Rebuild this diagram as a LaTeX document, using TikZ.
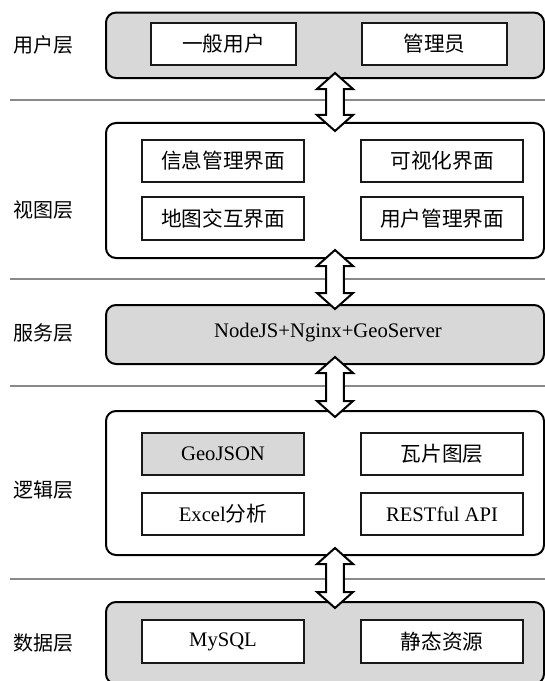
\documentclass[tikz,border=0pt]{standalone}
\usepackage{fontspec}
\setmainfont{Liberation Serif}
\newfontfamily\cjk{Noto Sans CJK SC}
\usetikzlibrary{calc}
\definecolor{boxgray}{HTML}{D8D8D8}
\definecolor{sepgray}{HTML}{8A8A8A}
\newcommand\blockarrow[2]{%
  \draw[arrowshape] (#1) -- ++(18,16) -- ++(-9.2,0) -- ($(#2)+(8.8,-16)$) -- ++(9.2,0) -- (#2)
    -- ++(-18,-16) -- ++(9.2,0) -- ($(#1)+(-8.8,16)$) -- ++(-9.2,0) -- cycle;}
\begin{document}
\begin{tikzpicture}[x=0.75pt,y=-0.75pt,
  every node/.style={font=\fontsize{15.5}{18}\selectfont, inner sep=0pt},
  bigbox/.style={draw=black, line width=1.5pt, rounded corners=7.5pt, minimum width=328.5pt},
  graybox/.style={bigbox, fill=boxgray},
  whitebox/.style={bigbox, fill=white},
  itembox/.style={draw=black!90, line width=1.2pt, fill=white, minimum height=31.9pt},
  sepline/.style={draw=sepgray, line width=0.9pt},
  layerlabel/.style={font=\fontsize{15}{18}\selectfont\cjk},
  arrowshape/.style={draw=black, line width=1.5pt, fill=white, line join=miter}
]
\useasboundingbox (0,0) rectangle (545,681);
\fill[white] (0,0) rectangle (545,681);

% separators
\draw[sepline] (10,100) -- (545,100);
\draw[sepline] (10,279) -- (545,279);
\draw[sepline] (10,386) -- (545,386);
\draw[sepline] (10,579) -- (545,579);

% layer boxes
\node[graybox, minimum height=49.1pt] (b1) at (325,45.3) {};
\node[whitebox, minimum height=101.25pt] (b2) at (325,190.5) {};
\node[graybox, minimum height=44.25pt] (b3) at (325,334.5) {};
\node[whitebox, minimum height=108pt] (b4) at (325,483) {};
\node[graybox, minimum height=61.5pt] (b5) at (325,643) {};

% layer labels
\node[layerlabel] (l1) at (43,45) {用户层};
\node[layerlabel] (l2) at (43,210) {视图层};
\node[layerlabel] (l3) at (43,333) {服务层};
\node[layerlabel] (l4) at (43,490) {逻辑层};
\node[layerlabel] (l5) at (43,643) {数据层};

% user layer
\node[itembox, minimum width=108.75pt] (u1) at (223.5,44) {\cjk 一般用户};
\node[itembox, minimum width=108.75pt] (u2) at (434.5,44) {\cjk 管理员};

% view layer
\node[itembox, minimum width=121.5pt] (v1) at (223,161) {\cjk 信息管理界面};
\node[itembox, minimum width=121.5pt] (v2) at (442,161) {\cjk 可视化界面};
\node[itembox, minimum width=121.5pt] (v3) at (223,218.5) {\cjk 地图交互界面};
\node[itembox, minimum width=121.5pt] (v4) at (442,218.5) {\cjk 用户管理界面};

% service layer
\node (s1) at (328,333) {NodeJS+Nginx+GeoServer};

% logic layer
\node[itembox, fill=boxgray, minimum width=121.5pt] (g1) at (223,454) {GeoJSON};
\node[itembox, minimum width=121.5pt] (g2) at (442,454) {\cjk 瓦片图层};
\node[itembox, minimum width=121.5pt] (g3) at (223,514) {Excel{\cjk 分析}};
\node[itembox, minimum width=121.5pt] (g4) at (442,514) {RESTful API};

% data layer
\node[itembox, minimum width=121.5pt] (d1) at (223,641.5) {MySQL};
\node[itembox, minimum width=121.5pt] (d2) at (442,641.5) {\cjk 静态资源};

% arrows
\coordinate (ax) at (335,0);
\coordinate (a1t) at ($(ax |- b1.south)+(0,-6)$);
\coordinate (a1b) at ($(ax |- b2.north)+(0,9)$);
\coordinate (a2t) at ($(ax |- b2.south)+(0,-9)$);
\coordinate (a2b) at ($(ax |- b3.north)+(0,5)$);
\coordinate (a3t) at ($(ax |- b3.south)+(0,-8)$);
\coordinate (a3b) at ($(ax |- b4.north)+(0,7)$);
\coordinate (a4t) at ($(ax |- b4.south)+(0,-8)$);
\coordinate (a4b) at ($(ax |- b5.north)+(0,7)$);
\blockarrow{a1t}{a1b}
\blockarrow{a2t}{a2b}
\blockarrow{a3t}{a3b}
\blockarrow{a4t}{a4b}
\end{tikzpicture}
\end{document}
